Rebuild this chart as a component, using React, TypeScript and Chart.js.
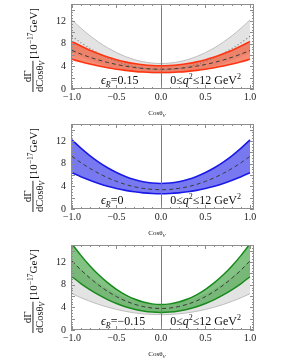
import React, { useEffect, useRef } from "react";
import { Chart, registerables } from "chart.js";
Chart.register(...registerables);

// cos(theta_V) sample points
const cosTheta = [-1.0, -0.9, -0.8, -0.7, -0.6, -0.5, -0.4, -0.3, -0.2, -0.1, 0.0, 0.1, 0.2, 0.3, 0.4, 0.5, 0.6, 0.7, 0.8, 0.9, 1.0];

// Standard model band (eps_R = 0)
const smUpper = [12.2, 10.74, 9.43, 8.27, 7.27, 6.43, 5.73, 5.19, 4.81, 4.58, 4.5, 4.58, 4.81, 5.19, 5.73, 6.43, 7.27, 8.27, 9.43, 10.74, 12.2];
const smCentral = [9.3, 8.18, 7.18, 6.29, 5.52, 4.88, 4.34, 3.93, 3.64, 3.46, 3.4, 3.46, 3.64, 3.93, 4.34, 4.88, 5.52, 6.29, 7.18, 8.18, 9.3];
const smLower = [6.4, 5.7, 5.07, 4.51, 4.03, 3.63, 3.29, 3.03, 2.85, 2.74, 2.7, 2.74, 2.85, 3.03, 3.29, 3.63, 4.03, 4.51, 5.07, 5.7, 6.4];

// eps_R = 0.15
const posUpper = [8.4, 7.58, 6.85, 6.21, 5.65, 5.18, 4.79, 4.49, 4.27, 4.14, 4.1, 4.14, 4.27, 4.49, 4.79, 5.18, 5.65, 6.21, 6.85, 7.58, 8.4];
const posCentral = [6.8, 6.17, 5.61, 5.12, 4.69, 4.33, 4.03, 3.8, 3.63, 3.53, 3.5, 3.53, 3.63, 3.8, 4.03, 4.33, 4.69, 5.12, 5.61, 6.17, 6.8];
const posLower = [5.25, 4.8, 4.4, 4.05, 3.75, 3.49, 3.28, 3.11, 2.99, 2.92, 2.9, 2.92, 2.99, 3.11, 3.28, 3.49, 3.75, 4.05, 4.4, 4.8, 5.25];

// eps_R = -0.15
const negUpper = [15.2, 13.17, 11.35, 9.74, 8.35, 7.18, 6.21, 5.46, 4.93, 4.61, 4.5, 4.61, 4.93, 5.46, 6.21, 7.18, 8.35, 9.74, 11.35, 13.17, 15.2];
const negCentral = [12.2, 10.6, 9.18, 7.92, 6.82, 5.9, 5.14, 4.56, 4.14, 3.88, 3.8, 3.88, 4.14, 4.56, 5.14, 5.9, 6.82, 7.92, 9.18, 10.6, 12.2];
const negLower = [9.4, 8.2, 7.13, 6.19, 5.37, 4.68, 4.11, 3.67, 3.35, 3.16, 3.1, 3.16, 3.35, 3.67, 4.11, 4.68, 5.37, 6.19, 7.13, 8.2, 9.4];

const xTicks = [-1.0, -0.5, 0.0, 0.5, 1.0];
const yTicks = [0, 2, 4, 6, 8, 10, 12, 14];
const epsLabels = ["=0.15", "=0", "=\u22120.15"];

const SERIF = "'Liberation Serif', 'DejaVu Serif', serif";
const RED = "#ff3410";
const BLUE = "#1a1ae8";
const GREEN = "#188a1c";

function ds(values: number[], opts: any) {
  return {
    data: cosTheta.map((c, i) => ({ x: c, y: values[i] })),
    pointRadius: 0,
    cubicInterpolationMode: "monotone",
    fill: false,
    ...opts,
  };
}

const dashed = { borderColor: "#3a3a3a", borderWidth: 1, borderDash: [4, 3] };
const grayFill = "rgba(0,0,0,0.11)";

type Run = { t: string; size: number; italic?: boolean; dy?: number };

function font(r: Run) {
  return `${r.italic ? "italic " : ""}${r.size}px ${SERIF}`;
}

function drawRuns(ctx: CanvasRenderingContext2D, runs: Run[], x: number, y: number, align: "left" | "right" | "center") {
  const widths = runs.map((r) => {
    ctx.font = font(r);
    return ctx.measureText(r.t).width;
  });
  const total = widths.reduce((a, b) => a + b, 0);
  let cx = align === "left" ? x : align === "right" ? x - total : x - total / 2;
  runs.forEach((r, i) => {
    ctx.font = font(r);
    ctx.fillText(r.t, cx, y + (r.dy || 0));
    cx += widths[i];
  });
  return total;
}

const framePlugin = {
  id: "frame",
  afterDatasetsDraw(chart: any, _args: any, opts: any) {
    const ctx: CanvasRenderingContext2D = chart.ctx;
    const { left, right, top, bottom } = chart.chartArea;
    const xs = chart.scales.x;
    const ys = chart.scales.y;
    ctx.save();
    // zero line
    const x0 = Math.round(xs.getPixelForValue(0)) + 0.5;
    ctx.strokeStyle = "#7a7a7a";
    ctx.lineWidth = 1;
    ctx.beginPath();
    ctx.moveTo(x0, top);
    ctx.lineTo(x0, bottom);
    ctx.stroke();
    // frame
    ctx.strokeStyle = "#8e8e8e";
    ctx.strokeRect(left + 0.5, top + 0.5, right - left - 1, bottom - top - 1);
    // ticks
    ctx.beginPath();
    for (let i = 0; i < xTicks.length; i++) {
      const p = Math.round(xs.getPixelForValue(xTicks[i])) + 0.5;
      ctx.moveTo(p, bottom);
      ctx.lineTo(p, bottom - 4);
      ctx.moveTo(p, top);
      ctx.lineTo(p, top + 4);
      if (i < xTicks.length - 1) {
        const step = (xTicks[i + 1] - xTicks[i]) / 5;
        for (let k = 1; k < 5; k++) {
          const q = Math.round(xs.getPixelForValue(xTicks[i] + k * step)) + 0.5;
          ctx.moveTo(q, bottom);
          ctx.lineTo(q, bottom - 2);
          ctx.moveTo(q, top);
          ctx.lineTo(q, top + 2);
        }
      }
    }
    for (let i = 0; i < yTicks.length; i++) {
      const p = Math.round(ys.getPixelForValue(yTicks[i])) + 0.5;
      ctx.moveTo(left, p);
      ctx.lineTo(left + 4, p);
      ctx.moveTo(right, p);
      ctx.lineTo(right - 4, p);
      const step = 0.5;
      for (let k = 1; k < 4; k++) {
        const v = yTicks[i] + k * step;
        if (v > ys.max) break;
        const q = Math.round(ys.getPixelForValue(v)) + 0.5;
        ctx.moveTo(left, q);
        ctx.lineTo(left + 2, q);
        ctx.moveTo(right, q);
        ctx.lineTo(right - 2, q);
      }
    }
    ctx.stroke();

    // inset texts
    ctx.fillStyle = "#111";
    ctx.textBaseline = "alphabetic";
    const base = bottom - 5;
    drawRuns(
      ctx,
      [
        { t: "\u03f5", size: 12, italic: true },
        { t: "R", size: 8, italic: true, dy: 2.5 },
        { t: opts.eps, size: 12 },
      ],
      left + 30,
      base,
      "left"
    );
    drawRuns(
      ctx,
      [
        { t: "0\u2264", size: 12 },
        { t: "q", size: 12, italic: true },
        { t: "2", size: 8, dy: -5 },
        { t: "\u226412 GeV", size: 12 },
        { t: "2", size: 8, dy: -5 },
      ],
      right - 13,
      base,
      "right"
    );

    // x axis title
    drawRuns(
      ctx,
      [
        { t: "Cos\u03b8", size: 7 },
        { t: "V", size: 5, italic: true, dy: 1.5 },
      ],
      157,
      bottom + 26,
      "center"
    );

    // y axis title (rotated)
    ctx.translate(33, bottom + 3);
    ctx.rotate(-Math.PI / 2);
    const wDen = drawRuns(
      ctx,
      [
        { t: "dCos\u03b8", size: 10.5 },
        { t: "V", size: 7.5, italic: true, dy: 2 },
      ],
      0,
      10,
      "left"
    );
    drawRuns(ctx, [{ t: "d\u0393", size: 11 }], wDen / 2, -2.5, "center");
    ctx.fillRect(0, -0.5, wDen, 0.9);
    drawRuns(
      ctx,
      [
        { t: "[10", size: 11 },
        { t: "\u221217", size: 7.5, dy: -4.5 },
        { t: "GeV]", size: 11 },
      ],
      wDen + 2,
      4,
      "left"
    );
    ctx.restore();
  },
};

type PanelDef = { top: number; height: number; eps: string; datasets: any[] };

const panels: PanelDef[] = [
  {
    top: 0,
    height: 120,
    eps: epsLabels[0],
    datasets: [
      ds(posUpper, { borderColor: RED, borderWidth: 1.6, fill: 1, backgroundColor: "rgba(240,70,30,0.62)" }),
      ds(posLower, { borderColor: RED, borderWidth: 1.6 }),
      ds(posCentral, dashed),
      ds(smUpper, { borderColor: "#bdbdbd", borderWidth: 1, fill: 4, backgroundColor: grayFill }),
      ds(smLower, { borderColor: "rgba(0,0,0,0)", borderWidth: 1 }),
      ds(smCentral, { borderColor: "#777", borderWidth: 1.2, borderDash: [1, 2.5] }),
    ],
  },
  {
    top: 120,
    height: 121,
    eps: epsLabels[1],
    datasets: [
      ds(smUpper, { borderColor: BLUE, borderWidth: 1.6, fill: 1, backgroundColor: "rgba(90,90,238,0.82)" }),
      ds(smLower, { borderColor: BLUE, borderWidth: 1.6 }),
      ds(smCentral, dashed),
    ],
  },
  {
    top: 241,
    height: 123,
    eps: epsLabels[2],
    datasets: [
      ds(negUpper, { borderColor: GREEN, borderWidth: 1.5, fill: 1, backgroundColor: "rgba(40,150,40,0.58)" }),
      ds(negLower, { borderColor: GREEN, borderWidth: 1.5 }),
      ds(negCentral, dashed),
      ds(smUpper, { borderColor: "rgba(0,0,0,0)", borderWidth: 1, fill: 4, backgroundColor: grayFill }),
      ds(smLower, { borderColor: "#bdbdbd", borderWidth: 1 }),
    ],
  },
];

function PanelChart({ panel }: { panel: PanelDef }) {
  const ref = useRef<HTMLCanvasElement>(null);
  useEffect(() => {
    const plotBottom = 89;
    const chart = new Chart(ref.current as HTMLCanvasElement, {
      type: "line",
      data: { datasets: panel.datasets },
      options: {
        responsive: false,
        animation: false,
        devicePixelRatio: 1,
        layout: { padding: { left: 0, right: 28, top: 4, bottom: 0 } },
        plugins: {
          legend: { display: false },
          tooltip: { enabled: false },
          filler: { drawTime: "beforeDatasetsDraw" },
          frame: { eps: panel.eps },
        } as any,
        scales: {
          x: {
            type: "linear",
            min: -1.011,
            max: 1.045,
            grid: { display: false, drawTicks: false },
            border: { display: false },
            afterBuildTicks: (s: any) => {
              s.ticks = xTicks.map((v) => ({ value: v }));
            },
            afterFit: (s: any) => {
              s.height = panel.height - plotBottom;
              s.paddingLeft = 0;
              s.paddingRight = 0;
            },
            ticks: {
              autoSkip: false,
              maxRotation: 0,
              padding: 2,
              color: "#222",
              font: { family: SERIF, size: 10 },
              callback: (v: any) => (v < 0 ? "\u2212" : "") + Math.abs(Number(v)).toFixed(1),
            },
          },
          y: {
            type: "linear",
            min: 0,
            max: 15,
            grid: { display: false, drawTicks: false },
            border: { display: false },
            afterBuildTicks: (s: any) => {
              s.ticks = yTicks.map((v) => ({ value: v }));
            },
            afterFit: (s: any) => {
              s.width = 71;
              s.paddingTop = 0;
              s.paddingBottom = 0;
            },
            ticks: {
              padding: 5,
              color: "#222",
              font: { family: SERIF, size: 10 },
              callback: (v: any) => String(v),
            },
          },
        },
      } as any,
      plugins: [framePlugin],
    });
    return () => chart.destroy();
  }, []);
  return (
    <canvas
      ref={ref}
      width={282}
      height={panel.height}
      style={{ position: "absolute", left: 0, top: panel.top, width: 282, height: panel.height }}
    />
  );
}

export default function App() {
  return (
    <div style={{ position: "fixed", left: 0, top: 0, width: 282, height: 364, background: "#fff" }}>
      {panels.map((p, i) => (
        <PanelChart key={i} panel={p} />
      ))}
    </div>
  );
}
